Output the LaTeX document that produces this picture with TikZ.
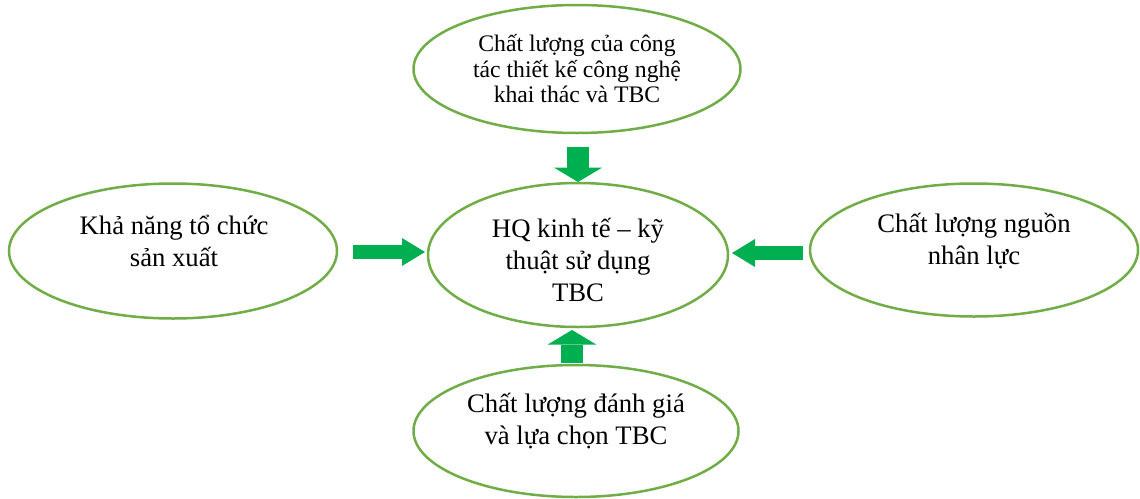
\documentclass[tikz,border=0pt]{standalone}
\usepackage{fontspec}
\setmainfont{Liberation Serif}
\usetikzlibrary{shapes.geometric,arrows.meta}
\definecolor{ovalgreen}{HTML}{70AD47}
\definecolor{arrowgreen}{HTML}{00B050}
\begin{document}
\begin{tikzpicture}[x=1pt,y=-1pt,
  oval/.style={ellipse, draw=ovalgreen, line width=2.5pt, inner sep=0pt, fill=white},
  txt/.style={align=center, inner sep=0pt, font=\fontsize{26.7}{32}\selectfont},
  txtsmall/.style={align=center, inner sep=0pt, font=\fontsize{23.7}{25.5}\selectfont},
  blkh/.style={draw=arrowgreen, line width=14pt, -{Triangle[length=23pt,width=28pt,line width=0pt]}},
  blkv/.style={draw=arrowgreen, line width=22.5pt, -{Triangle[length=14.5pt,width=48.5pt,line width=0pt]}}
]
\useasboundingbox (0,0) rectangle (1140,498);

% ovals
\node[oval, minimum width=327pt, minimum height=128pt] (top) at (577,69) {};
\node[oval, minimum width=300pt, minimum height=144pt] (mid) at (578,255) {};
\node[oval, minimum width=328pt, minimum height=135pt] (left) at (173,251) {};
\node[oval, minimum width=328pt, minimum height=133pt] (right) at (974,250) {};
\node[oval, minimum width=325pt, minimum height=132pt] (bot) at (576,431) {};

% texts
\node[txtsmall] (toptxt) at (577,69) {Chất lượng của công\\tác thiết kế công nghệ\\khai thác và TBC};
\node[txt] (midtxt) at (578,260) {HQ kinh tế – kỹ\\thuật sử dụng\\TBC};
\node[txt] (lefttxt) at (174,241) {Khả năng tổ chức\\sản xuất};
\node[txt] (righttxt) at (974,241) {Chất lượng nguồn\\nhân lực};
\node[txt] (bottxt) at (576,421) {Chất lượng đánh giá\\và lựa chọn TBC};

% arrow end points
\coordinate (la) at (353,252);
\coordinate (lb) at (425,252);
\coordinate (ra) at (803,253);
\coordinate (rb) at (732,253);
\coordinate (ta) at (578,147);
\coordinate (tb) at (578,182);
\coordinate (ba) at (572,363);
\coordinate (bb) at (572,330);

\draw[blkh] (la) -- (lb);
\draw[blkh] (ra) -- (rb);
\draw[blkv] (ta) -- (tb);
\draw[blkv] (ba) -- (bb);
\end{tikzpicture}
\end{document}
